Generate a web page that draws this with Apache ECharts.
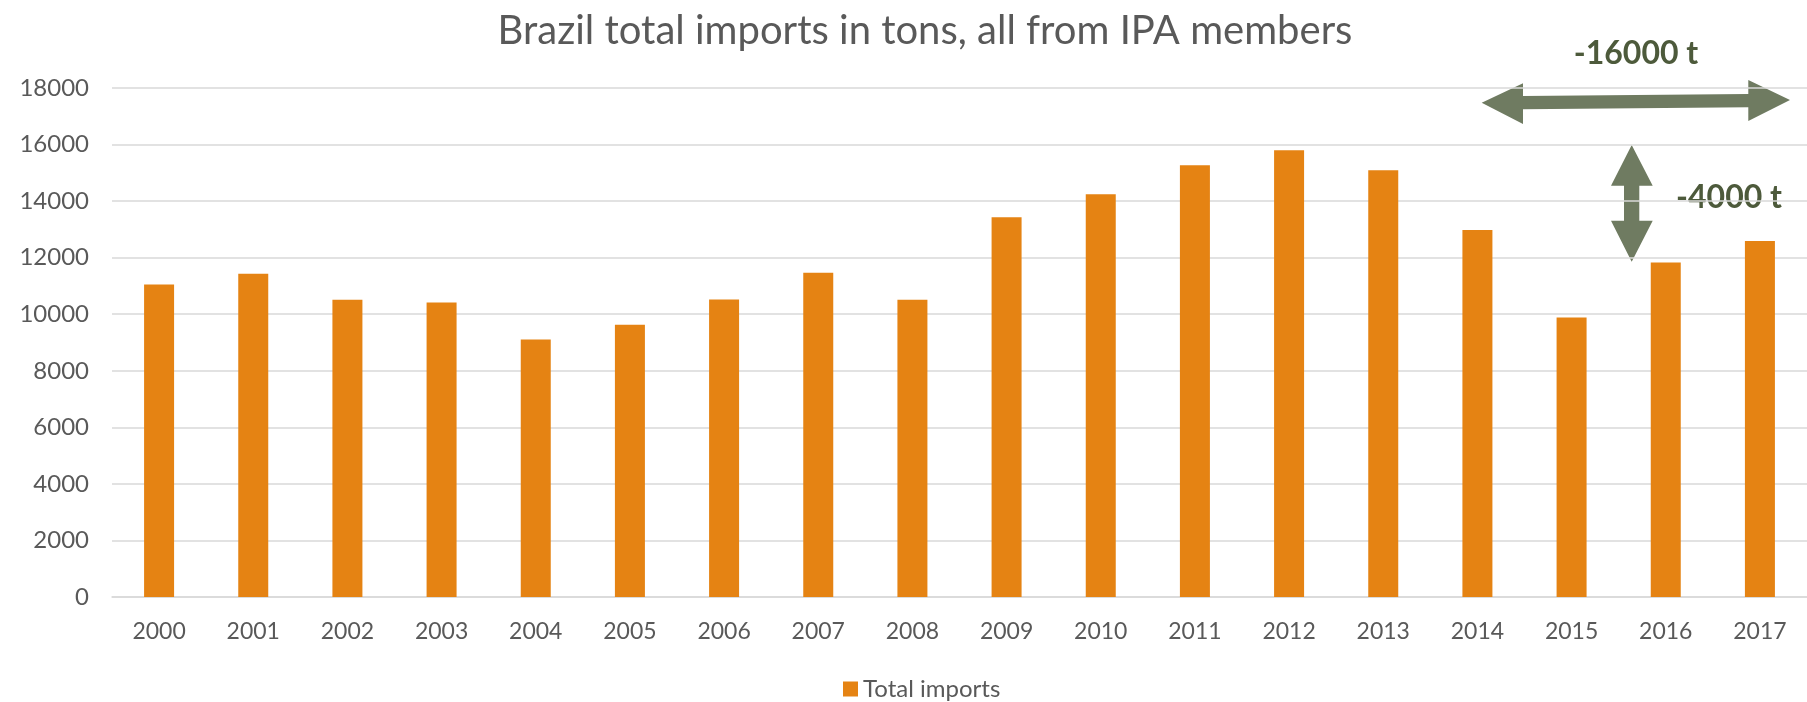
<!DOCTYPE html>
<html>
<head>
<meta charset="utf-8">
<script src="https://cdn.jsdelivr.net/npm/echarts@6/dist/echarts.min.js"></script>
<style>
html,body{margin:0;padding:0;background:#fff;}
#chart{width:1807px;height:702px;}
</style>
</head>
<body>
<div id="chart"></div>
<script>
const years = ['2000','2001','2002','2003','2004','2005','2006','2007','2008','2009','2010','2011','2012','2013','2014','2015','2016','2017'];
const totalImports = [11050, 11430, 10510, 10415, 9110, 9630, 10520, 11465, 10510, 13425, 14245, 15270, 15800, 15095, 12980, 9880, 11825, 12590];
const seriesName = 'Total imports';
const titleText = 'Brazil total imports in tons, all from IPA members';
const annotationH = '-16000 t';
const annotationV = '-4000 t';

const FONT = 'Lato';
const GREY = '#595959';
const ARROW = '#6F7B61';
const ATEXT = '#4D5A3B';

const chart = echarts.init(document.getElementById('chart'));
chart.setOption({
  animation: false,
  backgroundColor: '#fff',
  textStyle: { fontFamily: FONT },
  grid: { left: 112, top: 88, width: 1712, height: 509, containLabel: false },
  legend: {
    data: [seriesName],
    left: 838, top: 672,
    icon: 'rect', itemWidth: 15, itemHeight: 15,
    textStyle: { fontFamily: FONT, fontSize: 24, color: GREY }
  },
  xAxis: {
    type: 'category',
    data: years,
    axisLine: { lineStyle: { color: '#D9D9D9', width: 1.5 } },
    axisTick: { show: false },
    axisLabel: { fontFamily: FONT, fontSize: 23, color: GREY, margin: 23 }
  },
  yAxis: {
    type: 'value',
    min: 0, max: 18000, interval: 2000,
    axisLine: { show: false },
    axisTick: { show: false },
    splitLine: { lineStyle: { color: '#D9D9D9', width: 1.5 } },
    axisLabel: { fontFamily: FONT, fontSize: 24, color: GREY, margin: 23, formatter: v => String(v) }
  },
  series: [{
    name: seriesName,
    type: 'bar',
    data: totalImports,
    barWidth: 30,
    itemStyle: { color: '#E58313' }
  }],
  graphic: [
    { type: 'text', x: 925, y: 31,
      style: { text: titleText, fontFamily: FONT, fontSize: 40, fill: GREY, align: 'center', verticalAlign: 'middle' } },
    { type: 'polygon',
      shape: { points: [[1481.7,102.7],[1523,83.3],[1523,96],[1748.3,94],[1748.3,80],[1790,100],[1748.3,121],[1748.3,107.3],[1523,109.3],[1523,124]] },
      style: { fill: ARROW } },
    { type: 'polygon',
      shape: { points: [[1631.7,145],[1652.7,185.7],[1639.3,185.7],[1639.3,220.7],[1652.7,220.7],[1631.7,261.7],[1611,220.7],[1624,220.7],[1624,185.7],[1611,185.7]] },
      style: { fill: ARROW } },
    { type: 'text', x: 1636, y: 54,
      style: { text: annotationH, fontFamily: FONT, fontWeight: 'bold', fontSize: 32, fill: ATEXT, align: 'center', verticalAlign: 'middle' } },
    { type: 'text', x: 1729, y: 198,
      style: { text: annotationV, fontFamily: FONT, fontWeight: 'bold', fontSize: 32, fill: ATEXT, align: 'center', verticalAlign: 'middle' } }
  ]
});
</script>
</body>
</html>
